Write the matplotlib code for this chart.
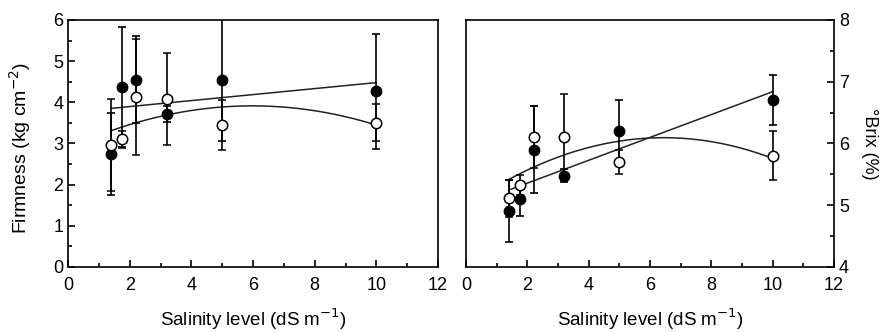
import numpy as np
import matplotlib
matplotlib.use('Agg')
import matplotlib.pyplot as plt
from matplotlib.ticker import MultipleLocator

plt.rcParams['font.family'] = ['Liberation Sans', 'DejaVu Sans']

# salinity levels (dS m-1)
salinity = [1.4, 1.75, 2.2, 3.2, 5.0, 10.0]

# firmness (kg cm-2)
firm_filled = [2.75, 4.37, 4.55, 3.72, 4.55, 4.27]
firm_filled_err = [1.0, 1.45, 1.05, 0.2, 1.5, 1.4]
firm_open = [2.97, 3.1, 4.13, 4.08, 3.45, 3.5]
firm_open_err = [1.12, 0.2, 1.4, 1.12, 0.6, 0.45]

# brix (%)
brix_filled = [4.9, 5.1, 5.9, 5.48, 6.2, 6.7]
brix_filled_err = [0.5, 0.28, 0.7, 0.1, 0.5, 0.4]
brix_open = [5.11, 5.33, 6.11, 6.1, 5.7, 5.8]
brix_open_err = [0.3, 0.16, 0.5, 0.7, 0.2, 0.4]


def draw_panel(ax, yf, ef, yo, eo):
    x = np.array(salinity)
    ax.errorbar(x, yf, yerr=ef, fmt='o', color='black', ms=7.5,
                mfc='black', mec='black', ecolor='black', elinewidth=1.2,
                capsize=3, capthick=1.2, zorder=3)
    ax.errorbar(x, yo, yerr=eo, fmt='o', color='black', ms=7.5,
                mfc='white', mec='black', mew=1.1, ecolor='black',
                elinewidth=1.2, capsize=3, capthick=1.2, zorder=4)
    xs = np.linspace(x.min(), x.max(), 200)
    # linear fit for filled, quadratic for open
    ax.plot(xs, np.polyval(np.polyfit(x, yf, 1), xs), color='#222222',
            lw=1.1, zorder=2)
    ax.plot(xs, np.polyval(np.polyfit(x, yo, 2), xs), color='#222222',
            lw=1.1, zorder=2)
    ax.set_xlim(0, 12)
    ax.xaxis.set_major_locator(MultipleLocator(2))
    ax.xaxis.set_minor_locator(MultipleLocator(1))
    ax.yaxis.set_minor_locator(MultipleLocator(0.5))
    ax.tick_params(which='both', direction='in', width=1.2, labelsize=13)
    ax.tick_params(which='major', length=5)
    ax.tick_params(which='minor', length=3)
    ax.tick_params(axis='x', pad=7)
    ax.set_xlabel('Salinity level (dS m$^{-1}$)', fontsize=13.5)
    ax.xaxis.set_label_coords(0.5, -0.16)
    for s in ax.spines.values():
        s.set_linewidth(1.2)


fig = plt.figure(figsize=(8.81, 3.32), dpi=100)
ax1 = fig.add_axes([0.0772, 0.196, 0.42, 0.744])
ax2 = fig.add_axes([0.529, 0.196, 0.4177, 0.744])

draw_panel(ax1, firm_filled, firm_filled_err, firm_open, firm_open_err)
ax1.set_ylim(0, 6)
ax1.yaxis.set_major_locator(MultipleLocator(1))
ax1.set_ylabel('Firmness (kg cm$^{-2}$)', fontsize=14)
ax1.yaxis.set_label_coords(-0.095, 0.48)

draw_panel(ax2, brix_filled, brix_filled_err, brix_open, brix_open_err)
ax2.set_ylim(4, 8)
ax2.yaxis.set_major_locator(MultipleLocator(1))
ax2.yaxis.tick_right()
ax2.tick_params(axis='y', which='both', left=False, right=True)
ax2.set_ylabel('°Brix (%)', fontsize=13, rotation=270)
ax2.yaxis.set_label_coords(1.072, 0.5)

fig.savefig('out.png', dpi=100)
